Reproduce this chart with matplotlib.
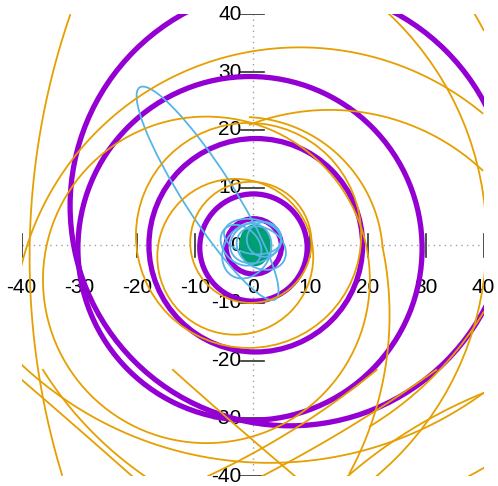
import numpy as np
import matplotlib
matplotlib.use("Agg")
import matplotlib.pyplot as plt
from matplotlib.patches import Circle, Ellipse

PURPLE = "#9400d3"
GREEN = "#009e73"
BLUE = "#56b4e9"
ORANGE = "#e69f00"

ticks = [-40, -30, -20, -10, 0, 10, 20, 30, 40]

# purple rings (centre x, centre y, radius)
purple_cx = [0.3, 0.2, 0.15, 0.55, -0.45, 6.5]
purple_cy = [0.2, -0.2, -0.4, 0.0, -0.55, 6.8]
purple_r = [1.1, 4.8, 9.3, 18.5, 29.8, 38.1]

# green blob
green_cx, green_cy, green_w, green_h = 0.4, 0.0, 5.2, 7.0

# light blue loops (centre x, centre y, width, height, angle)
blue_cx = [-7.8, 0.5, -1.0, 1.5, 0.0, -2.0, 2.0]
blue_cy = [9.0, 0.5, -1.0, -0.5, 1.5, 0.0, 1.0]
blue_w = [43.6, 9.0, 8.0, 7.0, 10.0, 6.0, 6.0]
blue_h = [8.6, 7.0, 10.0, 9.0, 6.0, 8.0, 6.0]
blue_ang = [122.6, 20, -30, 60, -10, 45, 0]

# orange full rings
orange_ring_cx = [-0.3, -3.0, -0.7, -8.0, -13.2]
orange_ring_cy = [0.5, -2.0, 1.7, -6.0, 1.0]
orange_ring_r = [10.5, 13.5, 19.5, 28.3, 53.7]

# orange arcs: start, middle, end points
orange_arcs = [
    [(-31.6, 39.9), (-38.6, 0.0), (-33.0, -39.8)],
    [(-40.0, -3.4), (7.6, 34.3), (39.8, 22.9)],
    [(-0.5, 20.9), (11.1, 23.4), (39.8, 13.0)],
    [(-0.5, 22.2), (16.8, 13.6), (22.5, -0.3)],
    [(22.5, -0.3), (23.7, -10.7), (16.8, -39.5)],
    [(-40.0, -23.3), (-29.4, -32.5), (-20.9, -40.0)],
    [(-36.3, -21.6), (-29.0, -31.1), (-18.7, -40.0)],
    [(-40.0, -20.7), (-3.4, -37.4), (40.0, -25.6)],
    [(-7.7, -40.0), (13.9, -27.4), (21.5, -21.6)],
    [(1.7, -40.0), (16.8, -31.5), (31.8, -21.6)],
    [(7.3, -40.0), (-3.4, -30.8), (-13.8, -21.6)],
    [(16.5, -40.0), (25.5, -33.2), (40.0, -25.6)],
    [(40.0, -11.6), (30.0, -24.0), (20.3, -31.4)],
    [(38.5, 40.0), (39.3, 38.6), (40.0, 37.3)],
    [(37.5, -40.0), (38.8, -39.3), (40.0, -38.6)],
]


def arc3(p1, p2, p3, n=300):
    (x1, y1), (x2, y2), (x3, y3) = p1, p2, p3
    d = 2 * (x1 * (y2 - y3) + x2 * (y3 - y1) + x3 * (y1 - y2))
    s1, s2, s3 = x1**2 + y1**2, x2**2 + y2**2, x3**2 + y3**2
    ux = (s1 * (y2 - y3) + s2 * (y3 - y1) + s3 * (y1 - y2)) / d
    uy = (s1 * (x3 - x2) + s2 * (x1 - x3) + s3 * (x2 - x1)) / d
    r = np.hypot(x1 - ux, y1 - uy)
    a1 = np.arctan2(y1 - uy, x1 - ux)
    a2 = np.arctan2(y2 - uy, x2 - ux)
    a3 = np.arctan2(y3 - uy, x3 - ux)
    span = (a3 - a1) % (2 * np.pi)
    mid = (a2 - a1) % (2 * np.pi)
    if mid < span:
        t = a1 + np.linspace(0, span, n)
    else:
        t = a1 - np.linspace(0, 2 * np.pi - span, n)
    return ux + r * np.cos(t), uy + r * np.sin(t)


fig = plt.figure(figsize=(4.98, 4.86), dpi=100)
ax = fig.add_axes([21.6 / 498, 10 / 486, 462 / 498, 461.5 / 486])
ax.set_xlim(-40, 40)
ax.set_ylim(-40, 40)
ax.axis("off")

# zero axes, ticks and labels (drawn underneath the curves)
ax.plot([-40, 40], [0, 0], color="#a0a0a0", lw=1, ls=(0, (1, 3)), zorder=1)
ax.plot([0, 0], [-40, 40], color="#a0a0a0", lw=1, ls=(0, (1, 3)), zorder=1)
for t in ticks:
    ax.plot([t, t], [-2, 2], color="#303030", lw=1.2, zorder=1)
    ax.plot([-2, 2], [t, t], color="#303030", lw=1.2, zorder=1)
    ax.text(t, -7.4, str(t), ha="center", va="center", fontsize=15,
            family="Liberation Sans", zorder=1)
    ax.text(-1.9, t, str(t), ha="right", va="center", fontsize=15,
            family="Liberation Sans", zorder=1)

for cx, cy, r in zip(purple_cx, purple_cy, purple_r):
    ax.add_patch(Circle((cx, cy), r, fill=False, ec=PURPLE, lw=3.8, zorder=2))

ax.add_patch(Ellipse((green_cx, green_cy), green_w, green_h, fc=GREEN,
                     ec=GREEN, lw=1.2, zorder=3))

for cx, cy, w, h, a in zip(blue_cx, blue_cy, blue_w, blue_h, blue_ang):
    ax.add_patch(Ellipse((cx, cy), w, h, angle=a, fill=False, ec=BLUE,
                         lw=1.3, zorder=4))

for cx, cy, r in zip(orange_ring_cx, orange_ring_cy, orange_ring_r):
    ax.add_patch(Circle((cx, cy), r, fill=False, ec=ORANGE, lw=1.3, zorder=5))
for p1, p2, p3 in orange_arcs:
    xs, ys = arc3(p1, p2, p3)
    ax.plot(xs, ys, color=ORANGE, lw=1.3, zorder=5)

fig.savefig("out.png", dpi=100)
